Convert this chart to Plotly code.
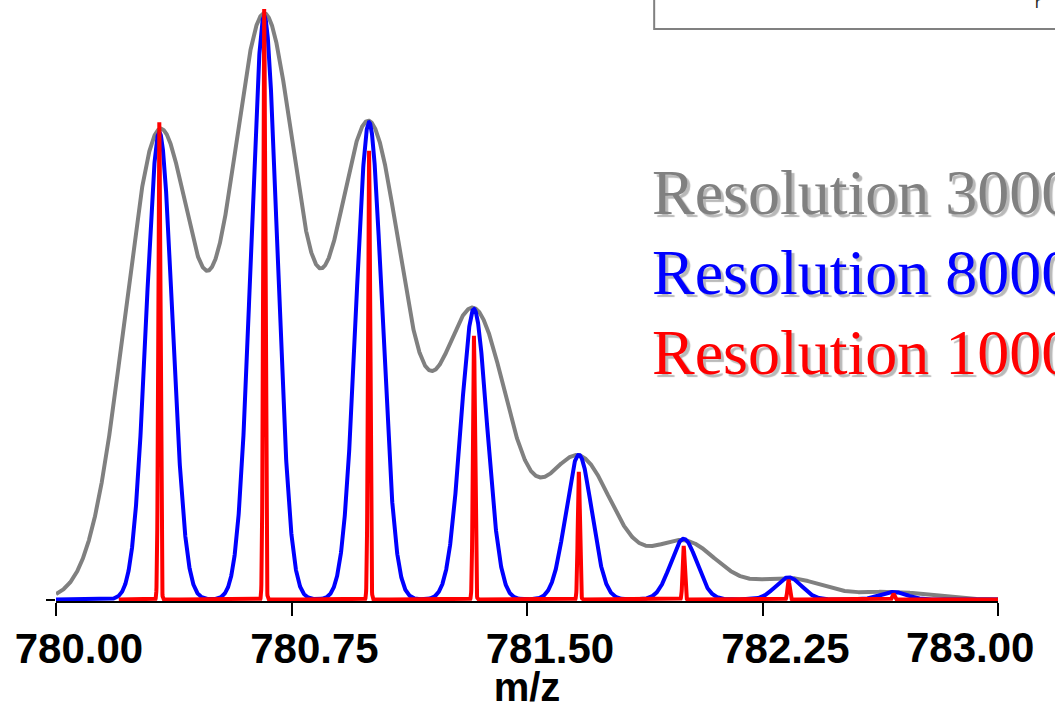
import numpy as np
import plotly.graph_objects as go

# ---------------- data ----------------
isotope_mz = [780.329, 780.663, 780.997, 781.331, 781.665, 781.999, 782.333, 782.667]
# relative apex intensities (%)
intens_r3000 = [79.6, 98.8, 80.5, 48.9, 24.1, 9.9, 3.6, 1.3]      # R=3000 (before overlap)
intens_r8000 = [80.1, 100.0, 81.8, 49.8, 24.8, 10.4, 3.8, 1.3]    # R=8000
intens_r100000 = [81.8, 101.2, 76.9, 45.2, 21.9, 9.2, 3.4, 1.0]   # R=100000 (sampled apexes)
resolutions = [3000, 8000, 100000]
series_names = ["Resolution 3000", "Resolution 8000", "Resolution 100000"]
series_colors = ["#808080", "#0000ff", "#ff0000"]
mz_start = [780.0, 780.0, 780.2]
mz_end = 783.0
tick_vals = [780.00, 780.75, 781.50, 782.25, 783.00]
tick_text = ["780.00", "780.75", "781.50", "782.25", "783.00"]


def profile(start, resolution, heights):
    x = np.arange(start, mz_end + 1e-9, 0.0005)
    y = np.zeros_like(x)
    for m, h in zip(isotope_mz, heights):
        sigma = (m / resolution) / 2.3548
        y += h * np.exp(-0.5 * ((x - m) / sigma) ** 2)
    return x, y


# ---------------- layout geometry ----------------
W, H = 1055, 709
L, R = 56, 56.5
PLOT_BOTTOM = 601.5           # pixel row of plot-area bottom
B = H - PLOT_BOTTOM
PX_PER_UNIT = 5.84            # pixels per 1 % intensity
y_lo = -(PLOT_BOTTOM - 600.0) / PX_PER_UNIT
y_hi = 600.0 / PX_PER_UNIT
plot_w = W - L - R


def px_x(p):
    return (p - L) / plot_w


def px_y(p):
    return (PLOT_BOTTOM - p) / PLOT_BOTTOM


fig = go.Figure()
heights_list = [intens_r3000, intens_r8000, intens_r100000]
widths = [4, 4, 4]
for name, res, col, st, hts, lw in zip(series_names, resolutions, series_colors, mz_start, heights_list, widths):
    x, y = profile(st, res, hts)
    fig.add_trace(go.Scatter(x=x, y=y, mode="lines", name=name,
                             line=dict(color=col, width=lw), hoverinfo="skip"))

tick_font = dict(family="Liberation Sans, Arial", size=42, color="black", weight="bold")

fig.update_layout(
    width=W, height=H,
    margin=dict(l=L, r=R, t=0, b=B, pad=0, autoexpand=False),
    paper_bgcolor="white", plot_bgcolor="white",
    showlegend=False,
    xaxis=dict(range=[780.0, 783.0], tickvals=tick_vals,
               ticktext=tick_text[:-1] + [""], automargin=False,
               ticks="outside", ticklen=13, tickwidth=1.5, tickcolor="black",
               showline=True, linecolor="black", linewidth=1.5,
               showgrid=False, zeroline=False,
               tickfont=tick_font, ticklabelshift=23, ticklabelstandoff=-3,
               title=dict(text="m/z", font=dict(family="Liberation Sans, Arial", size=40,
                                                color="black", weight="bold"),
                          standoff=15)),
    yaxis=dict(range=[y_lo, y_hi], tickvals=[0], ticks="outside", ticklen=9,
               tickwidth=1.5, tickcolor="black", showticklabels=False, automargin=False,
               showline=False, showgrid=False, zeroline=False),
)

# last tick label (kept inside the window, as in the reference)
fig.add_annotation(x=tick_vals[-1], y=0, xref="x", yref="paper", text=tick_text[-1],
                   showarrow=False, xanchor="center", yanchor="top", xshift=-28.5, yshift=-21,
                   font=tick_font)

# series labels with drop shadow
label_y = [193, 273, 353]
for name, col, ly in zip(series_names, series_colors, label_y):
    fig.add_annotation(x=px_x(650), y=px_y(ly), xref="paper", yref="paper", text=name,
                       showarrow=False, xanchor="left", yanchor="middle",
                       font=dict(family="Liberation Serif, Times New Roman", size=64, color=col,
                                 shadow="3px 3px 1px #b8b8b8"))

# partially visible box at the top right
fig.add_shape(type="rect", xref="paper", yref="paper",
              x0=px_x(654.5), x1=px_x(1080), y0=px_y(29), y1=px_y(-20),
              line=dict(color="#808080", width=2), fillcolor="rgba(0,0,0,0)")
fig.add_annotation(x=px_x(1034), y=px_y(3), xref="paper", yref="paper", text="r",
                   showarrow=False, xanchor="left", yanchor="middle",
                   font=dict(family="Liberation Sans, Arial", size=16, color="#222222"))

fig.write_html("out.html", config={"displayModeBar": False},
               post_script="document.body.style.margin='0';document.body.style.overflow='hidden';")
